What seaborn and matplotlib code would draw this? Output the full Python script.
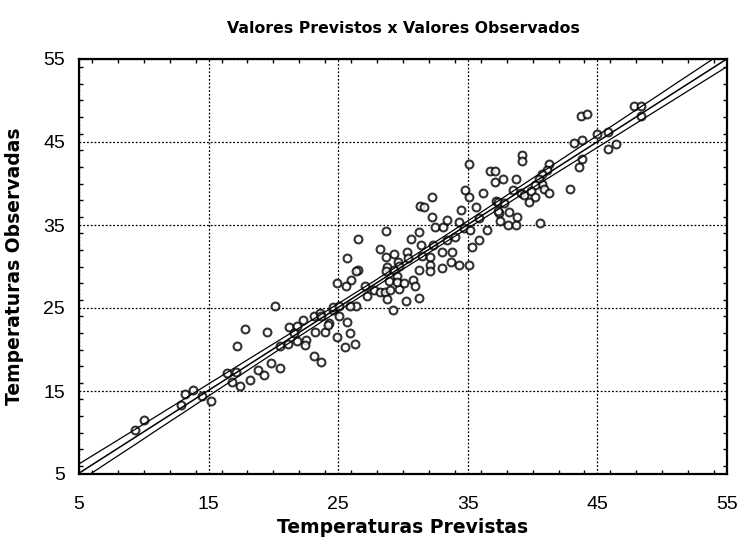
import matplotlib
matplotlib.use("Agg")
import matplotlib.pyplot as plt
from matplotlib.ticker import MultipleLocator
import seaborn as sns
import pandas as pd

# Predicted vs observed temperatures
previstas = [
    9.3, 10.0, 12.9, 13.2, 13.8, 14.5, 15.2,
    16.4, 17.1, 16.8, 17.4, 17.2, 17.8, 18.2, 18.8, 19.3, 19.5, 19.8, 20.5,
    20.1, 20.5, 21.1, 21.2, 21.8, 21.6, 21.8, 22.3, 22.5, 22.4, 23.1, 23.6,
    23.2, 24.0, 23.1, 23.7, 24.3, 24.6, 24.9, 23.7, 24.2, 24.6,
    24.9, 25.7, 26.5, 26.0, 25.6, 26.4, 25.9, 25.1, 25.1, 25.7, 25.9, 25.5,
    26.3, 26.5, 27.1, 27.2, 27.8, 28.2, 28.6, 28.2, 28.7, 26.4,
    28.7, 29.3, 29.6, 28.8, 29.7, 28.7, 29.3, 29.5, 29.0, 28.8, 29.7, 28.9,
    29.5, 30.1, 30.8, 30.9, 30.2, 31.2, 29.2, 30.3, 30.6, 31.2, 31.3, 32.2,
    31.2, 30.4, 31.5, 31.4, 32.3, 32.1, 32.1, 32.1, 32.2, 32.5, 33.1, 33.4,
    34.3, 33.4, 34.0, 34.7, 35.2, 33.0, 33.8, 33.7, 34.3, 35.1, 33.0, 34.8,
    35.1, 34.5, 35.6, 36.2, 35.9, 36.5, 35.9, 35.3, 35.1, 36.7, 37.1, 37.1,
    37.2, 37.4, 31.6,
    39.2, 39.2, 41.3, 41.1, 40.7, 40.5, 37.7, 38.7, 40.7, 40.2, 40.9, 41.3,
    38.5, 39.1, 39.3, 39.9, 40.2, 39.7, 42.9, 37.3, 37.8, 37.3, 38.2, 37.5,
    38.1, 38.7, 38.8, 40.6,
    47.8, 48.4, 48.4, 43.7, 44.2, 45.0, 45.8, 45.8, 46.4, 43.2, 43.8, 43.8,
    43.6,
]
observadas = [
    10.3, 11.5, 13.3, 14.6, 15.1, 14.4, 13.8,
    17.2, 17.3, 16.1, 15.6, 20.4, 22.5, 16.3, 17.5, 16.9, 22.1, 18.4, 17.8,
    25.2, 20.4, 20.7, 22.7, 22.8, 22.0, 21.0, 23.5, 21.2, 20.6, 24.0, 24.4,
    22.1, 22.1, 19.2, 18.5, 23.2, 24.7, 21.5, 24.0, 23.0, 25.1,
    28.0, 31.0, 29.6, 28.4, 27.7, 25.2, 25.2, 25.3, 24.0, 23.3, 22.0, 20.3,
    20.7, 33.3, 27.7, 26.4, 27.2, 26.9, 26.9, 32.1, 34.3, 29.5,
    31.2, 31.5, 30.5, 30.0, 30.1, 29.4, 29.6, 28.9, 27.2, 26.1, 27.3, 28.2,
    28.1, 28.0, 28.4, 27.7, 25.9, 26.2, 24.8, 31.7, 33.3, 34.1, 37.3, 38.4,
    29.6, 31.0, 31.3, 32.6, 32.6, 31.2, 30.2, 29.5, 36.0, 34.7, 34.7, 35.6,
    35.4, 33.2, 33.6, 34.6, 34.4, 31.7, 31.7, 30.6, 30.2, 30.2, 29.8, 39.2,
    38.4, 36.8, 37.2, 38.9, 35.8, 34.4, 33.2, 32.3, 42.4, 41.5, 41.5, 40.2,
    37.9, 36.4, 37.2,
    43.4, 42.7, 42.3, 41.6, 41.2, 40.6, 40.6, 40.6, 40.0, 39.8, 39.3, 38.9,
    39.2, 38.8, 38.6, 39.1, 38.4, 37.8, 39.3, 37.8, 37.6, 36.7, 36.6, 35.5,
    35.0, 35.0, 36.0, 35.2,
    49.3, 49.3, 48.1, 48.1, 48.4, 46.0, 46.2, 44.1, 44.8, 44.9, 45.2, 42.9,
    42.0,
]
ticks = [5, 15, 25, 35, 45, 55]

df = pd.DataFrame({"Previstas": previstas, "Observadas": observadas})

sns.set_style("white")
plt.rcParams["font.family"] = ["Liberation Sans", "DejaVu Sans"]
plt.rcParams["text.color"] = "black"
plt.rcParams["axes.labelcolor"] = "black"
plt.rcParams["xtick.color"] = "black"
plt.rcParams["ytick.color"] = "black"

fig = plt.figure(figsize=(7.4, 5.43), dpi=100)
ax = fig.add_axes([79 / 740, 1 - 474 / 543, 648 / 740, 415 / 543])
ax.set_xlim(5, 55)
ax.set_ylim(5, 55)

sns.regplot(
    data=df, x="Previstas", y="Observadas", ax=ax, ci=95, truncate=False,
    n_boot=1000, seed=3,
    scatter_kws=dict(s=32, facecolors="white", edgecolors="black",
                     linewidths=1.5, zorder=3),
    line_kws=dict(color="black", lw=1.1, zorder=4),
)

# Confidence band drawn as two outline curves instead of a filled area
for coll in ax.collections:
    if isinstance(coll, matplotlib.collections.PolyCollection):
        coll.set_facecolor("none")
        coll.set_edgecolor("black")
        coll.set_linewidth(0.9)
        coll.set_alpha(1)
        coll.set_zorder(4)

ax.set_xlim(5, 55)
ax.set_ylim(5, 55)
ax.set_xticks(ticks)
ax.set_yticks(ticks)
ax.set_xticklabels([str(t) for t in ticks])
ax.set_yticklabels([str(t) for t in ticks])
ax.xaxis.set_minor_locator(MultipleLocator(2))
ax.yaxis.set_minor_locator(MultipleLocator(2))
ax.tick_params(which="both", direction="in", top=True, right=True,
               bottom=True, left=True, color="black")
ax.tick_params(which="major", length=0, labelsize=14)
ax.tick_params(axis="x", which="major", pad=16)
ax.tick_params(axis="y", which="major", pad=10)
ax.tick_params(which="minor", length=3, width=1)

ax.grid(True, which="major", color="black", linestyle=(0, (1.5, 1.5)),
        linewidth=0.9)
ax.set_axisbelow(True)
for sp in ax.spines.values():
    sp.set_visible(True)
    sp.set_color("black")
    sp.set_linewidth(1.6)

ax.set_xlabel("Temperaturas Previstas", fontsize=13.5, fontweight="bold",
              fontfamily="DejaVu Sans")
ax.xaxis.set_label_coords(0.5, -0.106)
ax.set_ylabel("Temperaturas Observadas", fontsize=13.5, fontweight="bold",
              fontfamily="DejaVu Sans", labelpad=14)
ax.set_title("Valores Previstos x Valores Observados", fontsize=11.3,
             fontweight="bold", fontfamily="DejaVu Sans", pad=19)

fig.savefig("out.png", dpi=100, facecolor="white")
